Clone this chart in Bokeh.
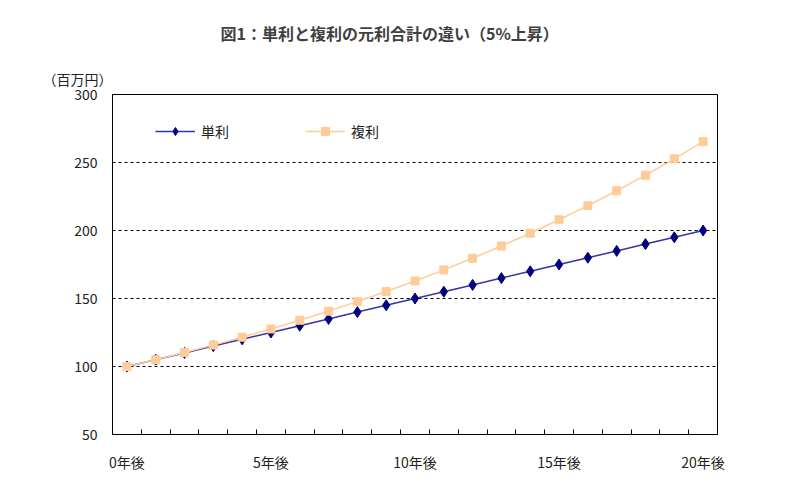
from bokeh.plotting import figure
from bokeh.models import FixedTicker, Legend, LegendItem, ColumnDataSource, Title
from bokeh.embed import file_html
from bokeh.resources import INLINE

# ---- data ----
years = [0, 1, 2, 3, 4, 5, 6, 7, 8, 9, 10, 11, 12, 13, 14, 15, 16, 17, 18, 19, 20]
simple_interest = [100, 105, 110, 115, 120, 125, 130, 135, 140, 145, 150,
                   155, 160, 165, 170, 175, 180, 185, 190, 195, 200]
compound_interest = [100.00, 105.00, 110.25, 115.76, 121.55, 127.63, 134.01,
                     140.71, 147.75, 155.13, 162.89, 171.03, 179.59, 188.56,
                     197.99, 207.89, 218.29, 229.20, 240.66, 252.70, 265.33]
x_tick_values = [0, 5, 10, 15, 20]
x_tick_labels = ["0年後", "5年後", "10年後", "15年後", "20年後"]
y_ticks = [50, 100, 150, 200, 250, 300]
series_names = ["単利", "複利"]
title_text = "図1：単利と複利の元利合計の違い（5%上昇）"
unit_text = "（百万円）"

FONT = "Noto Sans CJK JP"

src = ColumnDataSource(dict(x=years, s=simple_interest, c=compound_interest))

p = figure(width=781, height=476, x_range=(-0.5, 20.5), y_range=(50, 300),
           min_border_left=112, min_border_right=64, min_border_top=94,
           min_border_bottom=42, output_backend="svg", toolbar_location=None,
           background_fill_color="white", border_fill_color="white")

p.outline_line_color = "black"
p.outline_line_width = 1
p.outline_line_alpha = 1

# titles
p.title.text = title_text
p.title.align = "left"
p.title.offset = 108
p.title.text_font = FONT
p.title.text_font_size = "16px"
p.title.text_font_style = "bold"
p.title.text_color = "#404040"
p.title.standoff = 31

p.add_layout(Title(text=unit_text, align="left", offset=-70, standoff=12,
                   text_font=FONT, text_font_size="14px",
                   text_font_style="normal", text_color="#222222"), "above")

# x axis
p.xaxis.ticker = FixedTicker(ticks=x_tick_values,
                             minor_ticks=[y + 0.5 for y in years[:-1]])
p.xaxis.major_label_overrides = {v: t for v, t in zip(x_tick_values, x_tick_labels)}
p.xaxis.major_tick_in = 0
p.xaxis.major_tick_out = 0
p.xaxis.minor_tick_in = 5
p.xaxis.minor_tick_out = 0
p.xaxis.minor_tick_line_color = "black"
p.xaxis.axis_line_color = "black"
p.xaxis.major_label_standoff = 17
p.xaxis.major_label_text_font = FONT
p.xaxis.major_label_text_font_size = "14px"
p.xaxis.major_label_text_color = "#222222"

# y axis
p.yaxis.ticker = FixedTicker(ticks=y_ticks, minor_ticks=[])
p.yaxis.major_tick_in = 0
p.yaxis.major_tick_out = 0
p.yaxis.axis_line_color = "black"
p.yaxis.major_label_standoff = 15
p.yaxis.major_label_text_font = FONT
p.yaxis.major_label_text_font_size = "14px"
p.yaxis.major_label_text_color = "#222222"

# grid
p.xgrid.grid_line_color = None
p.ygrid.ticker = FixedTicker(ticks=y_ticks[1:-1])
p.ygrid.grid_line_color = "black"
p.ygrid.grid_line_dash = "3 3"
p.ygrid.grid_line_width = 1

# series
l1 = p.line("x", "s", source=src, line_color="#3535a5", line_width=1.5)
m1 = p.scatter("x", "s", source=src, marker="diamond", size=11,
               fill_color="#000080", line_color="#000080")
l2 = p.line("x", "c", source=src, line_color="#FFCC99", line_width=1.5)
m2 = p.scatter("x", "c", source=src, marker="square", size=8,
               fill_color="#FFCC99", line_color="#FFCC99")

legend = Legend(items=[LegendItem(label=series_names[0], renderers=[l1, m1]),
                       LegendItem(label=series_names[1], renderers=[l2, m2])],
                orientation="horizontal", location=(43, 293),
                glyph_width=40, glyph_height=20, label_standoff=6,
                label_width=101, spacing=3, padding=0, margin=0,
                border_line_alpha=0, background_fill_alpha=0,
                label_text_font=FONT, label_text_font_size="14px",
                label_text_color="#222222")
p.add_layout(legend)

open("out.html", "w").write(file_html(p, INLINE))
